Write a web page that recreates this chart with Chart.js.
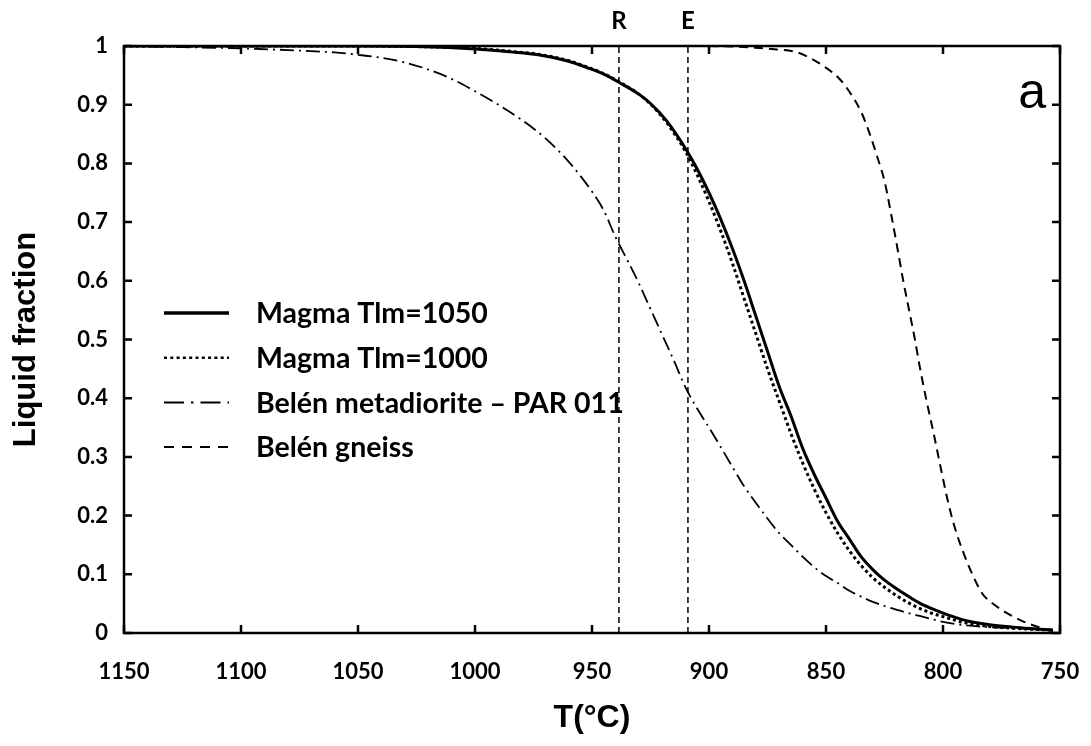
<!DOCTYPE html>
<html lang="en">
<head>
<meta charset="UTF-8">
<title>Liquid fraction vs temperature</title>
<style>
    body { margin: 0; background-color: #fff; }
    .chart-box { width: 1091px; height: 746px; position: relative; }
</style>
</head>
<body>
<div class="chart-box"><canvas id="chart"></canvas></div>

<script src="https://cdn.jsdelivr.net/npm/chart.js"></script>
<script>
// values: temperature (°C) and liquid fraction
var magmaTemps = [1150, 1100, 1050, 1025, 1000, 985, 973, 960, 952, 945, 938, 930, 925, 918, 910, 905, 900, 895, 890, 885, 880, 875, 870, 865, 860, 855, 850, 845, 840, 835, 830, 825, 820, 815, 810, 805, 800, 795, 790, 780, 770, 760, 753];
var magma1050 = [1, 1, 1, 0.999, 0.995, 0.99, 0.985, 0.974, 0.963, 0.952, 0.937, 0.918, 0.902, 0.872, 0.825, 0.79, 0.75, 0.705, 0.655, 0.60, 0.54, 0.48, 0.42, 0.37, 0.315, 0.27, 0.23, 0.19, 0.16, 0.13, 0.108, 0.09, 0.076, 0.063, 0.051, 0.042, 0.034, 0.027, 0.021, 0.014, 0.010, 0.007, 0.005];
var magma1000 = [1, 1, 1, 0.999, 0.996, 0.991, 0.986, 0.975, 0.964, 0.953, 0.938, 0.918, 0.901, 0.869, 0.82, 0.78, 0.735, 0.685, 0.63, 0.57, 0.51, 0.45, 0.395, 0.34, 0.29, 0.245, 0.205, 0.17, 0.14, 0.115, 0.094, 0.078, 0.064, 0.052, 0.042, 0.034, 0.028, 0.022, 0.017, 0.011, 0.008, 0.006, 0.005];

var dioriteTemps = [1150, 1125, 1100, 1080, 1060, 1050, 1040, 1030, 1020, 1010, 1000, 990, 980, 970, 960, 950, 945, 940, 935, 930, 925, 920, 915, 910, 905, 900, 895, 890, 885, 880, 875, 870, 865, 860, 855, 850, 845, 840, 835, 830, 825, 820, 815, 810, 805, 800, 790, 780, 770, 760, 753];
var diorite = [1, 0.998, 0.996, 0.993, 0.989, 0.985, 0.98, 0.972, 0.96, 0.944, 0.923, 0.9, 0.874, 0.843, 0.803, 0.752, 0.72, 0.675, 0.636, 0.596, 0.552, 0.508, 0.464, 0.418, 0.382, 0.35, 0.317, 0.283, 0.25, 0.222, 0.195, 0.17, 0.15, 0.13, 0.112, 0.097, 0.085, 0.072, 0.062, 0.053, 0.046, 0.04, 0.034, 0.029, 0.024, 0.019, 0.013, 0.01, 0.008, 0.006, 0.005];

var gneissTemps = [1150, 905, 890, 880, 871, 863, 857, 850, 844, 840, 835, 832, 828, 825, 822, 819, 817, 815, 812, 810, 807, 804, 801, 798, 795, 791, 787, 783, 778, 774, 767, 760, 753];
var gneiss = [1, 1, 0.999, 0.997, 0.994, 0.99, 0.98, 0.963, 0.943, 0.922, 0.888, 0.858, 0.81, 0.77, 0.71, 0.645, 0.60, 0.56, 0.5, 0.455, 0.395, 0.34, 0.282, 0.226, 0.18, 0.134, 0.096, 0.066, 0.048, 0.037, 0.022, 0.011, 0.003];

var markerTemps = [938.5, 909];
var markerLabels = ['R', 'E'];

var xTicks = [1150, 1100, 1050, 1000, 950, 900, 850, 800, 750];
var yTicks = [0, 0.1, 0.2, 0.3, 0.4, 0.5, 0.6, 0.7, 0.8, 0.9, 1];

var seriesNames = ['Magma Tlm=1050', 'Magma Tlm=1000', 'Belén metadiorite \u2013 PAR 011', 'Belén gneiss'];

function pairs(xs, ys) {
    return xs.map(function(x, i) { return {x: x, y: ys[i]}; });
}

var datasets = [
    { label: seriesNames[0], data: pairs(magmaTemps, magma1050), borderWidth: 3, borderDash: [], legendWidth: 3.5, legendDash: [] },
    { label: seriesNames[1], data: pairs(magmaTemps, magma1000), borderWidth: 3, borderDash: [3, 3], legendWidth: 2.5, legendDash: [3, 3.3] },
    { label: seriesNames[2], data: pairs(dioriteTemps, diorite), borderWidth: 1.8, borderDash: [14, 5, 2, 5], legendWidth: 2, legendDash: [20, 7, 2.5, 7] },
    { label: seriesNames[3], data: pairs(gneissTemps, gneiss), borderWidth: 2, borderDash: [9, 6], legendWidth: 2, legendDash: [10, 8] }
];

// vertical reference lines R and E
markerTemps.forEach(function(t) {
    datasets.unshift({ label: '', data: [{x: t, y: yTicks[0]}, {x: t, y: yTicks[yTicks.length - 1]}], borderWidth: 1.5, borderDash: [6, 4], isMarker: true });
});

datasets.forEach(function(ds) {
    ds.showLine = true;
    ds.pointRadius = 0;
    ds.borderColor = '#000';
    ds.backgroundColor = '#000';
    ds.fill = false;
    ds.borderCapStyle = 'butt';
    if (!ds.isMarker) ds.cubicInterpolationMode = 'monotone';
});

// frame, inward ticks, R/E labels, panel letter and legend
var decorPlugin = {
    id: 'decor',
    afterDatasetsDraw: function(chart) {
        var ctx = chart.ctx;
        var a = chart.chartArea;
        var xs = chart.scales.x;
        var ys = chart.scales.y;
        ctx.save();
        ctx.strokeStyle = '#000';
        ctx.fillStyle = '#000';
        ctx.setLineDash([]);
        ctx.lineWidth = 2.5;
        ctx.strokeRect(a.left, a.top, a.right - a.left, a.bottom - a.top);

        ctx.beginPath();
        xTicks.forEach(function(v) {
            var px = xs.getPixelForValue(v);
            ctx.moveTo(px, a.bottom); ctx.lineTo(px, a.bottom - 8);
            ctx.moveTo(px, a.top); ctx.lineTo(px, a.top + 8);
        });
        yTicks.forEach(function(v) {
            var py = ys.getPixelForValue(v);
            ctx.moveTo(a.left, py); ctx.lineTo(a.left + 8, py);
            ctx.moveTo(a.right, py); ctx.lineTo(a.right - 8, py);
        });
        ctx.stroke();

        ctx.font = 'bold 24px Lato';
        ctx.textAlign = 'center';
        ctx.textBaseline = 'middle';
        markerTemps.forEach(function(t, i) {
            ctx.fillText(markerLabels[i], xs.getPixelForValue(t), 21);
        });

        ctx.font = '50px "Liberation Sans"';
        ctx.textAlign = 'right';
        ctx.textBaseline = 'alphabetic';
        ctx.fillText('a', 1046, 108);

        // legend
        var rowY = 313, rowGap = 44.7;
        ctx.font = 'bold 28.5px Lato';
        ctx.textAlign = 'left';
        ctx.textBaseline = 'middle';
        chart.data.datasets.filter(function(ds) { return !ds.isMarker; }).forEach(function(ds, i) {
            var y = rowY + i * rowGap;
            ctx.lineWidth = ds.legendWidth;
            ctx.setLineDash(ds.legendDash);
            ctx.beginPath();
            ctx.moveTo(164, y);
            ctx.lineTo(229, y);
            ctx.stroke();
            ctx.setLineDash([]);
            ctx.fillText(ds.label, 256, y + 1);
        });
        ctx.restore();
    }
};

new Chart(document.getElementById('chart'), {
    type: 'scatter',
    data: { datasets: datasets },
    options: {
        responsive: true,
        maintainAspectRatio: false,
        animation: false,
        layout: { padding: { left: 0, top: 46, right: 31, bottom: 0 } },
        plugins: { legend: { display: false }, tooltip: { enabled: false } },
        scales: {
            x: {
                type: 'linear',
                min: 750,
                max: 1150,
                reverse: true,
                afterBuildTicks: function(scale) { scale.ticks = xTicks.map(function(v) { return {value: v}; }); },
                afterFit: function(scale) { scale.height = 113; scale.paddingLeft = 0; scale.paddingRight = 0; },
                grid: { display: false, drawTicks: false },
                border: { display: false },
                ticks: {
                    padding: 26,
                    color: '#000',
                    font: { family: 'Lato', weight: 'bold', size: 22 },
                    maxRotation: 0,
                    callback: function(v) { return String(v); }
                },
                title: {
                    display: true,
                    text: 'T(°C)',
                    color: '#000',
                    font: { family: 'Liberation Sans', weight: 'bold', size: 32 },
                    padding: { top: 0, bottom: 9 }
                }
            },
            y: {
                type: 'linear',
                min: 0,
                max: 1,
                afterBuildTicks: function(scale) { scale.ticks = yTicks.map(function(v) { return {value: v}; }); },
                afterFit: function(scale) { scale.width = 124; scale.paddingTop = 0; scale.paddingBottom = 0; },
                grid: { display: false, drawTicks: false },
                border: { display: false },
                ticks: {
                    padding: 16,
                    color: '#000',
                    font: { family: 'Lato', weight: 'bold', size: 22 },
                    callback: function(v) { return String(Math.round(v * 10) / 10); }
                },
                title: {
                    display: true,
                    text: 'Liquid fraction',
                    color: '#000',
                    font: { family: 'Liberation Sans', weight: 'bold', size: 31 },
                    padding: { top: 8, bottom: 0 }
                }
            }
        }
    },
    plugins: [decorPlugin]
});
</script>
</body>
</html>
